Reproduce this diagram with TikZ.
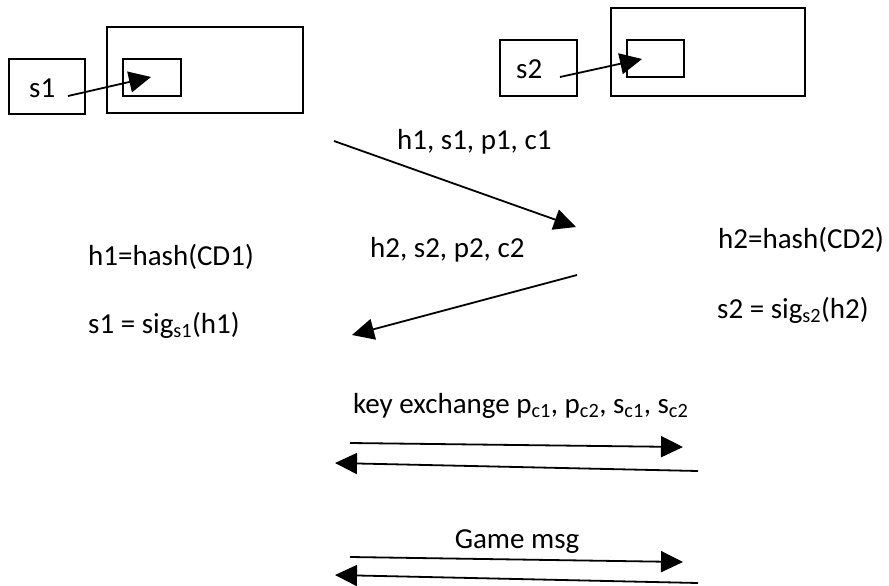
\documentclass[tikz,border=0pt]{standalone}
\usepackage{fontspec}
\setmainfont{Carlito}
\usetikzlibrary{arrows.meta}
\tikzset{
  box/.style={draw, line width=1.8pt, rectangle, inner sep=0pt},
  lbl/.style={inner sep=0pt, anchor=base west, font=\fontsize{29}{34}\selectfont},
  msg/.style={line width=1.8pt, -{Triangle[length=22pt,width=21pt]}},
}
\begin{document}
\begin{tikzpicture}[x=1pt,y=-1pt]
\useasboundingbox (0,0) rectangle (889,586);
% left device
\node[box, minimum width=76pt, minimum height=55pt] (s1box) at (47,86.5) {};
\node[box, minimum width=196pt, minimum height=86pt] (big1) at (205,70) {};
\node[box, minimum width=58pt, minimum height=37pt] (in1) at (152,77.5) {};
\node[lbl] (s1t) at (29,97) {s1};
\coordinate (a1s) at (68,96);
\coordinate (a1e) at (151,77);
\draw[msg] (a1s) -- (a1e);
% right device
\node[box, minimum width=77pt, minimum height=56pt] (s2box) at (538.5,68) {};
\node[box, minimum width=194pt, minimum height=88pt] (big2) at (708,52) {};
\node[box, minimum width=57pt, minimum height=37pt] (in2) at (655.5,58.5) {};
\node[lbl] (s2t) at (516,78) {s2};
\coordinate (a2s) at (560,77);
\coordinate (a2e) at (642,59);
\draw[msg] (a2s) -- (a2e);
% texts
\node[lbl] (m1) at (397,149) {h1, s1, p1, c1};
\node[lbl] (m2) at (370,257) {h2, s2, p2, c2};
\node[lbl] (h1) at (88,265) {h1=hash(CD1)};
\node[lbl] (h2) at (718,248) {h2=hash(CD2)};
\node[lbl] (sg1) at (88,333) {s1 = sig\textsubscript{s1}(h1)};
\node[lbl] (sg2) at (717,318) {s2 = sig\textsubscript{s2}(h2)};
\node[lbl] (ke) at (353,413) {key exchange p\textsubscript{c1}, p\textsubscript{c2}, s\textsubscript{c1}, s\textsubscript{c2}};
\node[lbl, anchor=base] (gm) at (517,548) {Game msg};
% message arrows
\coordinate (p1) at (334,141); \coordinate (p2) at (576,227);
\coordinate (p3) at (577,275); \coordinate (p4) at (352,335);
\coordinate (p5) at (350,443); \coordinate (p6) at (683,447);
\coordinate (p7) at (698,471); \coordinate (p8) at (335,463);
\coordinate (p9) at (350,557); \coordinate (p10) at (683,562);
\coordinate (p11) at (698,583); \coordinate (p12) at (335,575);
\draw[msg] (p1) -- (p2);
\draw[msg] (p3) -- (p4);
\draw[msg] (p5) -- (p6);
\draw[msg] (p7) -- (p8);
\draw[msg] (p9) -- (p10);
\draw[msg] (p11) -- (p12);
\end{tikzpicture}
\end{document}
